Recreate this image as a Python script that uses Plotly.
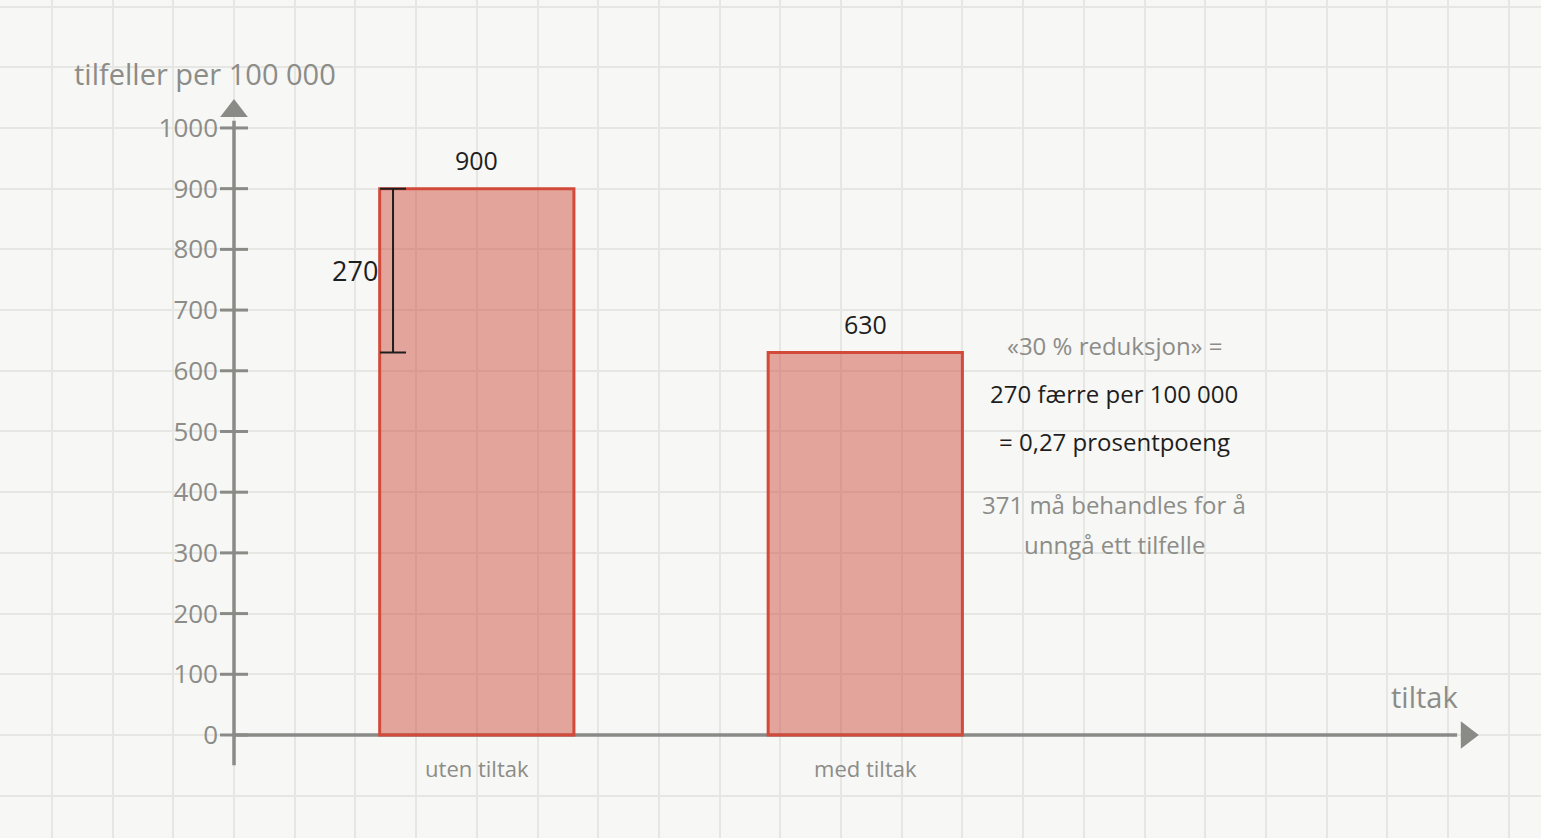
import plotly.graph_objects as go

# data
categories = ["uten tiltak", "med tiltak"]
values = [900, 630]
per = 100000
y_ticks = list(range(0, 1001, 100))

# layout constants (axis units: 100 units = one grid cell)
X_RANGE = [-385.5, 2153.2]
Y_RANGE = [-169.7, 1210.8]
BAR_X0, BAR_STEP, BAR_W = 400, 640, 320
bar_x = [BAR_X0 + BAR_STEP * i for i in range(len(categories))]

BG = "#f7f7f5"
GRID = "#e6e6e2"
AXIS = "#8a8a86"
TXT_GREY = "#8c8c88"
TXT_DARK = "#1e1e1e"
FONT = "Open Sans, sans-serif"

diff = values[0] - values[1]
pct = round(diff / values[0] * 100)
pp = diff / per * 100
nnt = -(-per // diff)

fig = go.Figure()

# axis lines with arrows (base subplot)
fig.add_trace(go.Scatter(x=[0, 0], y=[-50, 1012], mode="lines", line=dict(color=AXIS, width=3.5),
                         hoverinfo="skip", showlegend=False))
fig.add_trace(go.Scatter(x=[0, 2015], y=[0, 0], mode="lines", line=dict(color=AXIS, width=3.5),
                         hoverinfo="skip", showlegend=False))
fig.add_trace(go.Scatter(x=[0], y=[1028], mode="markers", hoverinfo="skip", showlegend=False,
                         marker=dict(symbol="triangle-up", size=24, color=AXIS)))
fig.add_trace(go.Scatter(x=[2031], y=[0], mode="markers", hoverinfo="skip", showlegend=False,
                         marker=dict(symbol="triangle-right", size=24, color=AXIS)))
fig.add_trace(go.Scatter(x=[0] * len(y_ticks), y=y_ticks, mode="markers", hoverinfo="skip", showlegend=False,
                         marker=dict(symbol="line-ew-open", size=20, color=AXIS,
                                     line=dict(color=AXIS, width=3))))

# bars
fig.add_trace(go.Bar(x=bar_x, y=values, width=BAR_W, xaxis="x2", yaxis="y",
                     marker=dict(color="rgba(206,82,66,0.5)", line=dict(color="#d24b3a", width=3)),
                     hoverinfo="skip", showlegend=False))

# difference bracket
fig.add_trace(go.Scatter(x=[bar_x[0] - BAR_W / 2 + 22], y=[(values[0] + values[1]) / 2], mode="markers",
                         xaxis="x2", yaxis="y", marker=dict(size=1, color="rgba(0,0,0,0)"),
                         error_y=dict(type="data", array=[diff / 2], color=TXT_DARK, thickness=2, width=13),
                         hoverinfo="skip", showlegend=False))

ann = []
for xv, v in zip(bar_x, values):
    ann.append(dict(x=xv, y=v, xref="x", yref="y", text=str(v), showarrow=False, yshift=29,
                    font=dict(size=25, color=TXT_DARK, weight=500)))
ann.append(dict(x=bar_x[0] - BAR_W / 2, y=(values[0] + values[1]) / 2, xref="x", yref="y", text=str(diff),
                showarrow=False, xanchor="right", xshift=0, font=dict(size=27, color=TXT_DARK, weight=500)))
ann.append(dict(x=-48, y=1090, xref="x", yref="y", text="tilfeller per 100 000", showarrow=False,
                font=dict(size=29, color=TXT_GREY, weight=500)))
ann.append(dict(x=1962, y=64, xref="x", yref="y", text="tiltak", showarrow=False,
                font=dict(size=29, color=TXT_GREY, weight=500)))
side = [
    ("«%d %% reduksjon» =" % pct, 642, TXT_GREY),
    ("%d færre per 100 000" % diff, 563, TXT_DARK),
    ("= %s prosentpoeng" % ("%.2f" % pp).replace(".", ","), 484, TXT_DARK),
    ("%d må behandles for å" % nnt, 379, TXT_GREY),
    ("unngå ett tilfelle", 313, TXT_GREY),
]
for t, yy, c in side:
    ann.append(dict(x=1450, y=yy, xref="x", yref="y", text=t, showarrow=False,
                    font=dict(size=24, color=c, weight=500)))

fig.update_layout(
    width=1541, height=838,
    margin=dict(l=0, r=0, t=0, b=0),
    paper_bgcolor=BG, plot_bgcolor=BG,
    font=dict(family=FONT, color=TXT_GREY),
    annotations=ann,
    xaxis=dict(range=X_RANGE, dtick=100, tick0=0, showgrid=True, gridcolor=GRID, gridwidth=1.5,
               showticklabels=False, zeroline=False, showline=False, fixedrange=True),
    xaxis2=dict(range=X_RANGE, overlaying="x", anchor="free", position=0.1, side="bottom",
                tickvals=bar_x, ticktext=categories, showgrid=False, zeroline=False, showline=False,
                ticks="", tickfont=dict(size=22, color=TXT_GREY, weight=500), fixedrange=True),
    yaxis=dict(range=Y_RANGE, anchor="free", position=234 / 1541, side="left",
               tickvals=list(range(-200, 1300, 100)),
               ticktext=[str(v) if 0 <= v <= 1000 else "" for v in range(-200, 1300, 100)],
               showgrid=True, gridcolor=GRID, gridwidth=1.5, zeroline=False, showline=False,
               ticks="", ticklabelstandoff=16, tickfont=dict(size=26, color=TXT_GREY, weight=500),
               fixedrange=True),
)

fig.write_html("out.html", config={"displayModeBar": False},
               post_script="document.body.style.margin='0';")
